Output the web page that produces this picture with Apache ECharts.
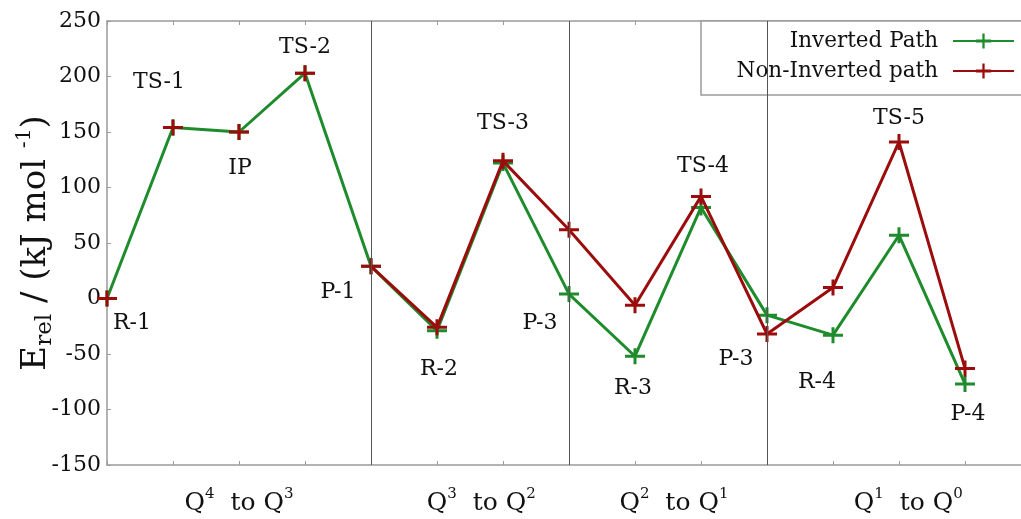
<!DOCTYPE html>
<html>
<head>
<meta charset="utf-8">
<script src="https://cdn.jsdelivr.net/npm/echarts@6/dist/echarts.min.js"></script>
<style>
html,body{margin:0;padding:0;background:#fff;}
#chart{width:1021px;height:519px;}
</style>
</head>
<body>
<div id="chart"></div>
<script>
// ---- data ----
const pointLabels = ['R-1','TS-1','IP','TS-2','P-1','R-2','TS-3','P-3','R-3','TS-4','P-3','R-4','TS-5','P-4'];
const invertedPath = [0, 154, 150, 203, 29, -29, 122, 4, -52, 82, -15, -33, 57, -77];
const nonInvertedPath = [0, 154, 150, 203, 29, -26, 124, 62, -6, 92, -32, 10, 141, -63];
const sharedUntil = 4; // both paths identical up to this point (green drawn on top there)
const dividers = [4, 7, 10];
const groupNames = [['4','3'], ['3','2'], ['2','1'], ['1','0']];
const groupAt = [2, 5.67, 8.59, 12.14];
const yTicks = {min: -150, max: 250, step: 50};

// ---- styles ----
const FONT = 'DejaVu Serif';
const GREEN = '#1e8b2c';
const RED = '#9b0d0d';
const CROSS = 'path://M0,6.5H8.5V0H11.5V6.5H20V9.5H11.5V16H8.5V9.5H0Z';
// label offsets relative to the green (inverted path) points
const labelOffsets = [[25,25],[-14,-45],[1,36],[0,-26],[-33,26],[2,39],[0,-40],[-29,29],[-2,32],[2,-41],[-31,44],[-16,47],[0,-117],[3,30]];

const chart = echarts.init(document.getElementById('chart'));
const axisGray = '#9a9a9a';

const option = {
  animation: false,
  backgroundColor: '#fff',
  grid: {left: 107, top: 21, width: 924, height: 444, containLabel: false, outerBoundsMode: 'none'},
  xAxis: [
    {
      type: 'value', min: 0, max: 14, interval: 1, position: 'bottom',
      axisLine: {show: true, onZero: false, lineStyle: {color: axisGray, width: 1.5}},
      axisTick: {show: true, inside: true, length: 4, lineStyle: {color: axisGray}},
      axisLabel: {show: false}, splitLine: {show: false}
    },
    {
      type: 'value', min: 0, max: 14, interval: 1, position: 'top',
      axisLine: {show: true, onZero: false, lineStyle: {color: axisGray, width: 1.5}},
      axisTick: {show: true, inside: true, length: 4, lineStyle: {color: axisGray}},
      axisLabel: {show: false}, splitLine: {show: false}
    },
    {
      type: 'value', min: 0, max: 14, position: 'bottom',
      axisLine: {show: false}, axisTick: {show: false}, splitLine: {show: false},
      axisLabel: {
        show: true, margin: 22,
        customValues: groupAt,
        formatter: function (v) {
          let idx = 0, best = 1e9;
          groupAt.forEach((g, i) => { if (Math.abs(g - v) < best) { best = Math.abs(g - v); idx = i; } });
          const g = groupNames[idx];
          return '{b|Q}{s|' + g[0] + '}{b|  to Q}{s|' + g[1] + '}';
        },
        rich: {
          b: {fontFamily: FONT, fontSize: 25, color: '#111', lineHeight: 32},
          s: {fontFamily: FONT, fontSize: 15, color: '#111', lineHeight: 15, verticalAlign: 'top'}
        }
      }
    }
  ],
  yAxis: {
    type: 'value', min: yTicks.min, max: yTicks.max, interval: yTicks.step,
    axisLine: {show: true, lineStyle: {color: axisGray, width: 1.5}},
    axisTick: {show: true, inside: true, length: 4, lineStyle: {color: axisGray}},
    splitLine: {show: false},
    axisLabel: {fontFamily: FONT, fontSize: 22, color: '#111', margin: 6},
    name: '{e|E}{sub|rel}{e| / (kJ mol }{sup|-1}{e|)}',
    nameLocation: 'middle', nameRotate: 90, nameGap: 50, nameMoveOverlap: false,
    nameTextStyle: {
      rich: {
        e: {fontFamily: FONT, fontSize: 34, color: '#111', lineHeight: 42},
        sub: {fontFamily: FONT, fontSize: 23, color: '#111', lineHeight: 23, verticalAlign: 'bottom'},
        sup: {fontFamily: FONT, fontSize: 20, color: '#111', lineHeight: 20, verticalAlign: 'top'}
      }
    }
  },
  legend: {
    orient: 'vertical', right: 6, top: 29, align: 'right',
    itemWidth: 61, itemHeight: 19, itemGap: 6, padding: 0,
    textStyle: {fontFamily: FONT, fontSize: 21.5, color: '#111', lineHeight: 24, padding: [0, 10, 0, 0]},
    data: ['Inverted Path', 'Non-Inverted path'],
    z: 10
  },
  graphic: [{
    type: 'rect', z: 5,
    shape: {x: 701, y: 21, width: 340, height: 74},
    style: {fill: '#fff', stroke: axisGray, lineWidth: 1.5}
  }],
  series: [
    {
      name: 'Inverted Path', type: 'line',
      data: invertedPath.map((v, i) => ({
        value: [i, v],
        label: {
          show: true, position: 'inside', offset: labelOffsets[i],
          formatter: pointLabels[i],
          fontFamily: FONT, fontSize: 22, color: '#111'
        }
      })),
      symbol: CROSS, symbolSize: [20, 16], showAllSymbol: true,
      lineStyle: {color: GREEN, width: 3},
      itemStyle: {color: GREEN},
      markLine: {
        silent: true, symbol: 'none', label: {show: false},
        lineStyle: {color: '#555', width: 1, type: 'solid'},
        data: dividers.map(d => ({xAxis: d}))
      },
      z: 2
    },
    {
      name: 'Non-Inverted path', type: 'line',
      data: nonInvertedPath.map((v, i) => [i, v]).slice(sharedUntil),
      symbol: CROSS, symbolSize: [20, 16], showAllSymbol: true,
      lineStyle: {color: RED, width: 3},
      itemStyle: {color: RED},
      z: 3
    },
    {
      name: 'Non-Inverted path', type: 'scatter',
      data: nonInvertedPath.map((v, i) => [i, v]).slice(0, sharedUntil),
      symbol: CROSS, symbolSize: [20, 16],
      itemStyle: {color: RED, opacity: 1},
      z: 4
    }
  ]
};
chart.setOption(option);
</script>
</body>
</html>
